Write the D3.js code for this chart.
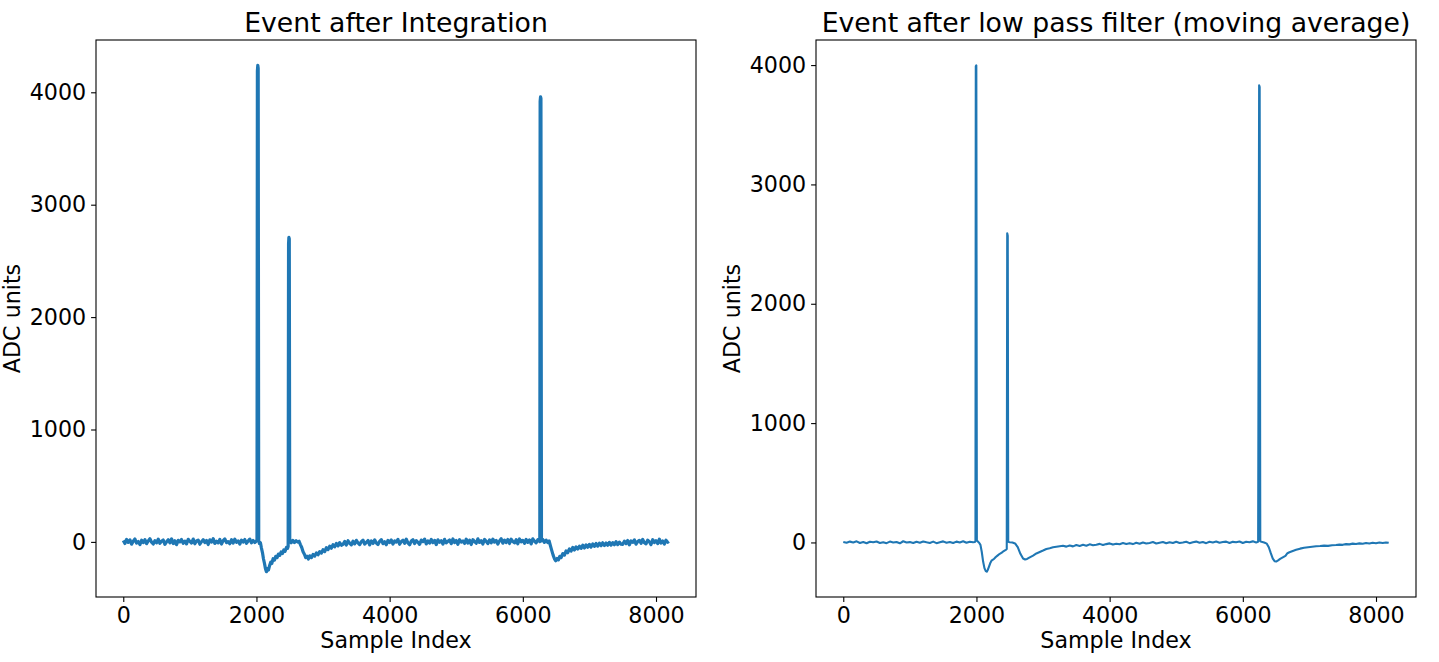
<!DOCTYPE html>
<html>
<head>
<meta charset="utf-8">
<script src="https://cdn.jsdelivr.net/npm/d3@7"></script>
<style>
    body { margin: 0; background: #fff; }
    svg { display: block; }
    text { font-family: "DejaVu Sans", sans-serif; fill: #000; }
</style>
</head>
<body>
<div id="chart"></div>
<script>
"use strict";

var titles = ["Event after Integration", "Event after low pass filter (moving average)"];
var xTicks = [0, 2000, 4000, 6000, 8000];
var yTicksInt = [0, 1000, 2000, 3000, 4000];
var yTicksLp = [0, 1000, 2000, 3000, 4000];

// integrated trace (left panel)
var intIndex = [
    0, 25, 50, 75, 100, 125, 150, 175, 200, 225, 250, 275, 300, 325, 350, 375, 400, 425, 450, 475,
    500, 525, 550, 575, 600, 625, 650, 675, 700, 725, 750, 775, 800, 825, 850, 875, 900, 925, 950, 975,
    1000, 1025, 1050, 1075, 1100, 1125, 1150, 1175, 1200, 1225, 1250, 1275, 1300, 1325, 1350, 1375, 1400, 1425, 1450, 1475,
    1500, 1525, 1550, 1575, 1600, 1625, 1650, 1675, 1700, 1725, 1750, 1775, 1800, 1825, 1850, 1875, 1900, 1925, 1950, 1975,
    1995, 2008, 2014, 2020, 2026, 2034,
    2045, 2060, 2075, 2090, 2105, 2120, 2135, 2150, 2165, 2180, 2200, 2215, 2230, 2250, 2270, 2290, 2310, 2330, 2350, 2370,
    2390, 2410, 2430, 2450, 2466, 2476,
    2482, 2487, 2493, 2500,
    2520, 2545, 2570, 2595, 2620, 2640, 2660, 2680, 2700, 2720, 2740, 2760, 2780, 2800, 2825, 2850, 2875, 2900, 2925, 2950,
    2975, 3000, 3025, 3050, 3075, 3100, 3125, 3150, 3175, 3200, 3225, 3250, 3275,
    3300, 3325, 3350, 3375, 3400, 3425, 3450, 3475, 3500, 3525, 3550, 3575, 3600, 3625, 3650, 3675, 3700, 3725, 3750, 3775,
    3800, 3825, 3850, 3875, 3900, 3925, 3950, 3975, 4000, 4025, 4050, 4075, 4100, 4125, 4150, 4175, 4200, 4225, 4250, 4275,
    4300, 4325, 4350, 4375, 4400, 4425, 4450, 4475, 4500, 4525, 4550, 4575, 4600, 4625, 4650, 4675, 4700, 4725, 4750, 4775,
    4800, 4825, 4850, 4875, 4900, 4925, 4950, 4975, 5000, 5025, 5050, 5075, 5100, 5125, 5150, 5175, 5200, 5225, 5250, 5275,
    5300, 5325, 5350, 5375, 5400, 5425, 5450, 5475, 5500, 5525, 5550, 5575, 5600, 5625, 5650, 5675, 5700, 5725, 5750, 5775,
    5800, 5825, 5850, 5875, 5900, 5925, 5950, 5975, 6000, 6025, 6050, 6075, 6100, 6125, 6150, 6175, 6200, 6225,
    6245, 6255, 6260, 6266, 6272, 6280,
    6300, 6325, 6350, 6375, 6395, 6415, 6435, 6455, 6475, 6495, 6515, 6535, 6555, 6575,
    6600, 6625, 6650, 6675, 6700, 6725, 6750, 6775, 6800, 6825, 6850, 6875, 6900, 6925, 6950, 6975, 7000, 7025, 7050, 7075,
    7100, 7125, 7150, 7175, 7200, 7225, 7250, 7275, 7300, 7325, 7350, 7375, 7400, 7425, 7450, 7475,
    7500, 7525, 7550, 7575, 7600, 7625, 7650, 7675, 7700, 7725, 7750, 7775, 7800, 7825, 7850, 7875, 7900, 7925, 7950, 7975,
    8000, 8025, 8050, 8075, 8100, 8125, 8150, 8175, 8191
];
var intAdc = [
    12, -14, 22, -4, 18, -20, 6, 26, -11, 3, -24, 15, -7, 20, -16, 9, 28, -3, -19, 11,
    -9, 24, -13, 5, 17, -22, 1, 19, -8, 27, -15, 10, -25, 14, 0, 21, -12, 7, -18, 23,
    4, -10, 25, -17, 8, 16, -21, 2, 20, -6, 13, -23, 18, -2, 29, -14, 6, -9, 22, -19,
    11, 26, -7, 3, -16, 19, -11, 24, -4, 9, -20, 15, -1, 21, -13, 7, 25, -8, 12, -5,
    6, 14, 4190, 4240, 4215, 10,
    -14, -8, -55, -95, -150, -190, -238, -265, -238, -250, -205, -180, -192, -150, -162, -128, -140, -108, -120, -90,
    -104, -72, -84, -50, -58, -40,
    2650, 2710, 2695, 6,
    -8, 14, -6, 10, -2, 6, -24, -50, -88, -110, -140, -128, -152, -124, -140, -112, -126, -98, -114, -86,
    -100, -70, -86, -52, -68, -38, -56, -24, -44, -14, -36, -6, -30,
    -22, 4, -28, 10, -12, -26, 6, -18, 14, -8, -24, 2, 16, -20, -4, 12, -27, 8, -14, 18,
    -10, -23, 5, 20, -16, 1, -25, 13, -6, 17, -19, 9, -2, 22, -21, 3, 15, -13, 24, -9,
    -26, 7, 19, -15, 11, -4, -22, 16, 2, 25, -18, 8, -11, 21, -7, 14, -24, 18, -3, 10,
    -20, 23, -9, 5, 17, -16, 26, -6, 12, -21, 19, -1, 8, -14, 24, -10, 15, -23, 20, 3,
    -12, 27, -5, 11, -19, 22, 6, -15, 18, -8, 25, -2, 13, -20, 9, 28, -11, 16, -6, 21,
    -14, 24, 4, -9, 19, -17, 26, 1, 14, -12, 22, -4, 17, -18, 27, 7, -8, 20,
    12, 2, 3920, 3960, 3945, 8,
    22, -4, 16, -6, 8, -36, -78, -118, -150, -168, -148, -160, -128, -140,
    -104, -118, -80, -96, -62, -82, -50, -72, -44, -64, -38, -58, -30, -54, -26, -48, -22, -46, -18, -40,
    -14, -38, -12, -34, -8, -32, -10, -30, -4, -28, -6, -26, 2, -24, -2, -20,
    -22, 6, -16, 12, -26, 9, -4, 18, -20, 3, 14, -12, 22, -8, -18, 16, 1, -24, 20, -6,
    11, -15, 24, -10, 8, -19, 15, -3, 6
];

// moving average trace (right panel)
var lpIndex = [
    0, 50, 100, 150, 200, 250, 300, 350, 400, 450, 500, 550, 600, 650, 700, 750, 800, 850, 900, 950,
    1000, 1050, 1100, 1150, 1200, 1250, 1300, 1350, 1400, 1450, 1500, 1550, 1600, 1650, 1700, 1750, 1800, 1850, 1900, 1950,
    1975, 1985, 1990, 1998, 2006,
    2020, 2040, 2060, 2080, 2100, 2120, 2140, 2155, 2170, 2190, 2210, 2230, 2260, 2290, 2320, 2350, 2380, 2410, 2440, 2455,
    2462, 2470, 2477,
    2500, 2540, 2580, 2620, 2660, 2700, 2730, 2760, 2800, 2850, 2900, 2950, 3000, 3050, 3100, 3150, 3200, 3250,
    3300, 3350, 3400, 3450, 3500, 3550, 3600, 3650, 3700, 3750, 3800, 3850, 3900, 3950, 4000, 4050, 4100, 4150, 4200, 4250,
    4300, 4350, 4400, 4450, 4500, 4550, 4600, 4650, 4700, 4750, 4800, 4850, 4900, 4950, 5000, 5050, 5100, 5150, 5200, 5250,
    5300, 5350, 5400, 5450, 5500, 5550, 5600, 5650, 5700, 5750, 5800, 5850, 5900, 5950, 6000, 6050, 6100, 6150, 6200, 6230,
    6245, 6253, 6262,
    6280, 6320, 6360, 6390, 6420, 6450, 6480, 6500, 6530, 6560, 6600, 6640, 6670, 6700, 6750, 6800, 6860, 6920, 6980, 7040,
    7100, 7160, 7220, 7280, 7340, 7400, 7450, 7500, 7550, 7600, 7650, 7700, 7750, 7800, 7850, 7900, 7950, 8000, 8050, 8100,
    8150, 8191
];
var lpAdc = [
    4, -3, 7, 0, 9, -5, 3, -7, 6, 1, 8, -4, 2, -6, 7, -1, 4, -7, 10, 0,
    3, -5, 6, -2, 8, 1, -4, 7, -6, 2, 9, -2, 4, -5, 7, 0, 10, -3, 6, 1,
    4, 10, 3990, 3998, 20,
    8, -2, -20, -80, -160, -215, -240, -245, -230, -200, -170, -150, -140, -122, -108, -95, -85, -72, -62, -55,
    2590, 2570, 5,
    2, 0, -8, -40, -95, -135, -143, -138, -125, -110, -92, -80, -68, -55, -48, -40, -36, -32,
    -28, -35, -25, -33, -22, -29, -20, -28, -16, -24, -19, -12, -22, -14, -8, -18, -11, -15, -5, -13,
    -6, -14, -3, -11, 0, -9, -4, 3, -9, -2, 4, -7, 2, -5, 6, -4, 0, 6, -6, 2,
    7, -3, 4, -6, 6, 0, 8, -3, 3, 7, -5, 5, 1, 8, -4, 6, 2, 9, 0, 6,
    3830, 3815, 10,
    6, 0, -10, -40, -90, -135, -158, -160, -150, -138, -125, -112, -90, -82, -72, -62, -52, -45, -40, -36,
    -32, -30, -27, -29, -24, -22, -18, -20, -14, -16, -10, -13, -8, -11, -5, -9, -3, -7, -1, -5,
    0, -3
];

var W = 1439, H = 662;
var panels = [
    { left: 96, title: titles[0], xs: intIndex, ys: intAdc, yTicks: yTicksInt, stroke: 3.2 },
    { left: 816, title: titles[1], xs: lpIndex, ys: lpAdc, yTicks: yTicksLp, stroke: 2.1 }
];
var plotTop = 40, plotW = 600, plotH = 557;

var svg = d3.select("#chart")
    .append("svg")
    .attr("width", W)
    .attr("height", H);

panels.forEach(function (p) {
    drawPanel(p);
});

function padded(ext) {
    var m = (ext[1] - ext[0]) * 0.05;
    return [ext[0] - m, ext[1] + m];
}

function drawPanel(p) {
    var x = d3.scaleLinear()
        .domain(padded(d3.extent(p.xs)))
        .range([0, plotW]);
    var y = d3.scaleLinear()
        .domain(padded(d3.extent(p.ys)))
        .range([plotH, 0]);

    var g = svg.append("g")
        .attr("transform", "translate(" + p.left + "," + plotTop + ")");

    var line = d3.line()
        .x(function (d, i) { return x(p.xs[i]); })
        .y(function (d) { return y(d); });

    g.append("path")
        .datum(p.ys)
        .attr("d", line)
        .attr("fill", "none")
        .attr("stroke", "#1f77b4")
        .attr("stroke-width", p.stroke)
        .attr("stroke-linejoin", "round");

    var xAxis = g.append("g")
        .attr("transform", "translate(0," + plotH + ")")
        .call(d3.axisBottom(x).tickValues(xTicks).tickFormat(d3.format("d")).tickSize(4.9).tickPadding(4.9));
    var yAxis = g.append("g")
        .call(d3.axisLeft(y).tickValues(p.yTicks).tickFormat(d3.format("d")).tickSize(4.9).tickPadding(4.9));

    [xAxis, yAxis].forEach(function (a) {
        a.select(".domain").remove();
        a.selectAll("line").attr("stroke", "#000").attr("stroke-width", 1.1);
        a.selectAll("text")
            .attr("font-family", "DejaVu Sans, sans-serif")
            .attr("font-size", "22.2px")
            .attr("fill", "#000");
    });

    g.append("rect")
        .attr("width", plotW)
        .attr("height", plotH)
        .attr("fill", "none")
        .attr("stroke", "#000")
        .attr("stroke-width", 1.1);

    g.append("text")
        .attr("x", plotW / 2)
        .attr("y", -8.3)
        .attr("text-anchor", "middle")
        .attr("font-size", "26.7px")
        .text(p.title);

    g.append("text")
        .attr("x", plotW / 2)
        .attr("y", 608)
        .attr("text-anchor", "middle")
        .attr("font-size", "22.2px")
        .text("Sample Index");

    g.append("text")
        .attr("transform", "translate(-76," + (plotH / 2) + ") rotate(-90)")
        .attr("text-anchor", "middle")
        .attr("font-size", "22.2px")
        .text("ADC units");
}
</script>
</body>
</html>
